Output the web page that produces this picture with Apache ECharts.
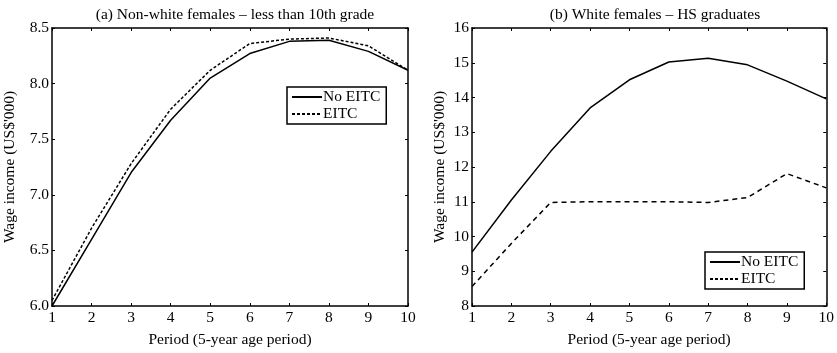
<!DOCTYPE html>
<html>
<head>
<meta charset="utf-8">
<script src="https://cdn.jsdelivr.net/npm/echarts@6/dist/echarts.min.js"></script>
<style>
html, body { margin: 0; padding: 0; background: #fff; }
#main { width: 837px; height: 353px; }
</style>
</head>
<body>
<div id="main"></div>
<script>
var periods = [1, 2, 3, 4, 5, 6, 7, 8, 9, 10];

// (a) Non-white females - less than 10th grade
var a_noEitc = [6.0, 6.6, 7.2, 7.67, 8.05, 8.27, 8.38, 8.39, 8.29, 8.12];
var a_eitc = [6.05, 6.7, 7.28, 7.77, 8.12, 8.36, 8.40, 8.41, 8.34, 8.12];

// (b) White females - HS graduates
var b_noEitc = [9.55, 11.05, 12.45, 13.7, 14.51, 15.02, 15.13, 14.94, 14.47, 13.96];
var b_eitc = [8.56, 9.8, 10.98, 11.0, 11.0, 11.0, 10.98, 11.12, 11.81, 11.4];

function pairs(vals) {
    return periods.map(function(p, i){ return [p, vals[i]]; });
}

var font = 'Liberation Serif';
var txt = {fontFamily: font, fontSize: 15.5, color: '#000', lineHeight: 13, padding: [0, 0, 0, -4]};

function xAx(grid, pos, show) {
    return {
        type: 'value', gridIndex: grid, position: pos, min: 1, max: 10, interval: 1,
        name: show ? 'Period (5-year age period)' : '',
        nameLocation: 'middle', nameGap: 26,
        nameTextStyle: {fontFamily: font, fontSize: 15.5, color: '#000'},
        axisLine: {show: true, onZero: false, lineStyle: {color: '#000', width: 1.5}},
        axisTick: {show: true, inside: true, length: 3, lineStyle: {color: '#000'}},
        axisLabel: {show: show, margin: 4, fontFamily: font, fontSize: 15.5, color: '#000'},
        splitLine: {show: false}
    };
}

function yAx(grid, pos, show, min, max, step, dec) {
    return {
        type: 'value', gridIndex: grid, position: pos, min: min, max: max, interval: step,
        name: show ? "Wage income (US$'000)" : '',
        nameLocation: 'middle', nameGap: dec ? 34 : 24, nameRotate: 90,
        nameTextStyle: {fontFamily: font, fontSize: 15.5, color: '#000'},
        axisLine: {show: true, onZero: false, lineStyle: {color: '#000', width: 1.5}},
        axisTick: {show: true, inside: true, length: 3, lineStyle: {color: '#000'}},
        axisLabel: {show: show, margin: 3, fontFamily: font, fontSize: 15.5, color: '#000',
            formatter: function(v){ return dec ? v.toFixed(1) : v; }},
        splitLine: {show: false}
    };
}

function line(name, x, y, vals, type) {
    return {
        name: name, type: 'line', xAxisIndex: x, yAxisIndex: y,
        data: pairs(vals), symbol: 'none', silent: true,
        itemStyle: {color: '#000'},
        lineStyle: {color: '#000', width: 1.5, type: type}
    };
}

function legendAt(left, top) {
    return {
        data: ['No EITC', 'EITC'], orient: 'vertical', left: left, top: top, itemGap: 1,
        itemWidth: 30, itemHeight: 12, padding: [2, 6, 2, 4], selectedMode: false,
        itemStyle: {opacity: 0},
        borderColor: '#000', borderWidth: 1.5, backgroundColor: '#fff', textStyle: txt
    };
}

var myChart = echarts.init(document.getElementById('main'));
var option = {
    animation: false,
    title: [
        {text: '(a) Non-white females \u2013 less than 10th grade', left: 230, top: 2, textAlign: 'center',
         textStyle: {fontFamily: font, fontSize: 15.5, fontWeight: 'normal', color: '#000'}},
        {text: '(b) White females \u2013 HS graduates', left: 650, top: 2, textAlign: 'center',
         textStyle: {fontFamily: font, fontSize: 15.5, fontWeight: 'normal', color: '#000'}}
    ],
    grid: [
        {left: 52, right: 429, top: 28, bottom: 45},
        {left: 472, right: 9, top: 28, bottom: 45}
    ],
    xAxis: [xAx(0, 'bottom', true), xAx(0, 'top', false), xAx(1, 'bottom', true), xAx(1, 'top', false)],
    yAxis: [
        yAx(0, 'left', true, 6, 8.5, 0.5, true), yAx(0, 'right', false, 6, 8.5, 0.5, true),
        yAx(1, 'left', true, 8, 16, 1, false), yAx(1, 'right', false, 8, 16, 1, false)
    ],
    legend: [legendAt(287, 87), legendAt(705, 252)],
    series: [
        line('No EITC', 0, 0, a_noEitc, 'solid'),
        line('EITC', 0, 0, a_eitc, [3, 2]),
        line('No EITC', 2, 2, b_noEitc, 'solid'),
        line('EITC', 2, 2, b_eitc, [5, 4])
    ]
};
myChart.setOption(option);
</script>
</body>
</html>
